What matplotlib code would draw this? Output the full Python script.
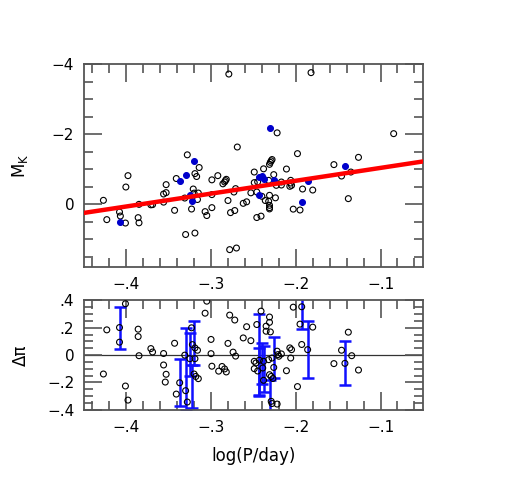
import matplotlib
matplotlib.use("Agg")
import matplotlib.pyplot as plt
from matplotlib.ticker import MultipleLocator, FuncFormatter

# top panel: open circles (logP, M_K)
open_logp = [-0.427, -0.423, -0.408, -0.407, -0.401, -0.4005, -0.398, -0.386, -0.385, -0.385,
             -0.371, -0.369, -0.356, -0.356, -0.353, -0.353, -0.343, -0.341, -0.328, -0.314,
             -0.319, -0.317, -0.331, -0.321, -0.320, -0.315, -0.316, -0.323, -0.330, -0.319,
             -0.307, -0.305, -0.299, -0.299, -0.299, -0.292, -0.286, -0.284, -0.283, -0.282,
             -0.280, -0.277, -0.272, -0.273, -0.271, -0.269, -0.279, -0.278, -0.270, -0.262,
             -0.258, -0.253, -0.249, -0.249, -0.246, -0.241, -0.246, -0.240, -0.222, -0.198,
             -0.231, -0.230, -0.229, -0.228, -0.238, -0.211, -0.226, -0.232, -0.245, -0.217,
             -0.223, -0.217, -0.206, -0.206, -0.205, -0.207, -0.192, -0.180, -0.231, -0.236,
             -0.232, -0.224, -0.231, -0.231, -0.231, -0.203, -0.195, -0.182, -0.0845, -0.126,
             -0.155, -0.146, -0.135, -0.138]
open_mk = [-0.106, 0.446, 0.229, 0.343, 0.543, -0.486, -0.811, 0.389, 0.537, 0.009,
           0.023, 0.017, -0.054, -0.286, -0.326, -0.554, 0.180, -0.729, -1.406, -1.043,
           -0.869, -0.786, -0.171, -0.429, -0.311, -0.314, -0.129, 0.143, 0.871, 0.829,
           0.217, 0.329, 0.103, -0.269, -0.691, -0.811, -0.577, -0.629, -0.669, -0.706,
           -0.100, 0.246, 0.186, -0.343, -0.440, -1.629, -3.714, 1.303, 1.257, -0.020,
           -0.063, -0.320, -0.914, -0.611, 0.386, 0.346, -0.343, -0.220, -2.034, -1.440,
           -1.134, -1.191, -1.234, -1.271, -1.006, -1.000, -0.840, -0.677, -0.634, -0.629,
           -0.534, -0.543, -0.677, -0.600, -0.534, -0.506, -0.429, -0.400, -0.249, -0.100,
           -0.077, -0.177, 0.037, 0.103, 0.140, 0.146, 0.171, -3.754, -2.011, -1.334,
           -1.126, -0.800, -0.914, -0.154]

# stars with parallax errors (blue)
blue_logp = [-0.408, -0.337, -0.329, -0.320, -0.325, -0.322, -0.230, -0.243, -0.240, -0.238,
             -0.226, -0.243, -0.186, -0.193, -0.142]
blue_mk = [0.503, -0.657, -0.840, -1.234, -0.257, -0.097, -2.169, -0.763, -0.806, -0.726,
           -0.677, -0.263, -0.669, -0.071, -1.097]
blue_dpi = [0.20, -0.20, -0.10, 0.09, 0.005, -0.23, -0.35, 0.00, -0.06, -0.10,
            -0.02, -0.12, 0.04, 0.35, -0.06]
blue_err = [0.153, 0.17, 0.30, 0.16, 0.155, 0.155, 0.17, 0.30, 0.15, 0.17,
            0.15, 0.17, 0.21, 0.16, 0.16]

# bottom panel: open circles (logP, delta parallax)
res_logp = [-0.427, -0.423, -0.408, -0.408, -0.401, -0.401, -0.398, -0.386, -0.386, -0.385,
            -0.371, -0.369, -0.356, -0.356, -0.353, -0.354, -0.343, -0.341, -0.337, -0.331,
            -0.330, -0.328, -0.325, -0.323, -0.322, -0.319, -0.319, -0.316, -0.320, -0.318,
            -0.315, -0.307, -0.305, -0.300, -0.300, -0.299, -0.291, -0.287, -0.284, -0.282,
            -0.280, -0.278, -0.272, -0.274, -0.271, -0.262, -0.258, -0.253, -0.246, -0.249,
            -0.247, -0.249, -0.245, -0.243, -0.241, -0.238, -0.239, -0.238, -0.235, -0.235,
            -0.231, -0.231, -0.230, -0.232, -0.228, -0.226, -0.231, -0.229, -0.227, -0.229,
            -0.228, -0.222, -0.222, -0.221, -0.217, -0.220, -0.211, -0.207, -0.205, -0.206,
            -0.203, -0.198, -0.195, -0.193, -0.193, -0.186, -0.180, -0.155, -0.146, -0.142,
            -0.138, -0.134, -0.126]
res_dpi = [-0.138, 0.185, 0.202, 0.095, 0.376, -0.226, -0.329, 0.190, 0.136, -0.004,
           0.048, 0.023, 0.012, -0.072, -0.140, -0.197, 0.087, -0.285, -0.202, 0.0,
           -0.260, -0.343, -0.026, 0.200, 0.077, -0.026, 0.053, 0.036, -0.138, -0.156,
           -0.172, 0.307, 0.395, 0.115, 0.011, -0.081, -0.117, -0.083, -0.101, -0.123,
           0.086, 0.293, 0.257, 0.022, -0.007, 0.126, 0.208, 0.106, 0.224, -0.045,
           -0.057, -0.099, -0.116, -0.037, 0.322, -0.045, -0.094, -0.184, 0.212, 0.175,
           0.279, 0.240, 0.170, -0.033, -0.021, -0.090, -0.143, -0.156, -0.171, -0.338,
           -0.354, -0.358, 0.029, 0.004, 0.009, -0.008, -0.114, 0.053, 0.040, -0.021,
           0.351, -0.230, 0.227, 0.078, 0.354, 0.040, 0.205, -0.062, 0.036, -0.060,
           0.168, -0.004, -0.109]

# fitted PL relation M_K = a + b logP
fit_a = -1.40
fit_b = -3.675
fit_x = [-0.45, -0.05]

GREY = "#555555"


def fmt(v, pos):
    if abs(v) < 1e-9:
        return "0"
    s = ("%g" % abs(v))
    if s.startswith("0."):
        s = s[1:]
    return ("\u2212" if v < 0 else "") + s


def style(ax):
    for sp in ax.spines.values():
        sp.set_color(GREY)
        sp.set_linewidth(1.3)
    ax.tick_params(which="both", direction="in", top=True, right=True,
                   color=GREY, width=1.2, labelsize=11, pad=7)
    ax.tick_params(which="major", length=13)
    ax.tick_params(which="minor", length=6.5)
    ax.xaxis.set_major_locator(MultipleLocator(0.1))
    ax.xaxis.set_minor_locator(MultipleLocator(0.02))
    ax.xaxis.set_major_formatter(FuncFormatter(fmt))
    ax.yaxis.set_major_formatter(FuncFormatter(fmt))
    ax.set_xlim(-0.45, -0.05)


fig = plt.figure(figsize=(5.18, 4.87), dpi=100)
ax1 = fig.add_axes([0.162, 0.4517, 0.6544, 0.4168])
ax2 = fig.add_axes([0.162, 0.1585, 0.6544, 0.2245])

style(ax1)
ax1.scatter(open_logp, open_mk, s=18, facecolors="none", edgecolors="black", linewidths=0.8, zorder=3)
ax1.scatter(blue_logp, blue_mk, s=18, facecolors="#0000cc", edgecolors="#0000cc", linewidths=0.8, zorder=3)
ax1.plot(fit_x, [fit_a + fit_b * x for x in fit_x], color="red", lw=3.2, zorder=4)
ax1.set_ylim(1.8, -4)
ax1.yaxis.set_major_locator(MultipleLocator(2))
ax1.yaxis.set_minor_locator(MultipleLocator(0.5))
ax1.set_ylabel("M$_{\\rm K}$", fontsize=12)
ax1.yaxis.set_label_coords(-0.16, 0.5)

style(ax2)
ax2.axhline(0, color="#333333", lw=0.9, zorder=1)
ax2.errorbar(blue_logp, blue_dpi, yerr=blue_err, fmt="none", ecolor="#1010ff",
             elinewidth=1.8, capsize=4, capthick=1.8, zorder=2)
ax2.scatter(res_logp, res_dpi, s=18, facecolors="none", edgecolors="black", linewidths=0.8, zorder=3)
ax2.set_ylim(-0.4, 0.4)
ax2.yaxis.set_major_locator(MultipleLocator(0.2))
ax2.yaxis.set_minor_locator(MultipleLocator(0.05))
ax2.set_ylabel("\u0394\u03c0", fontsize=12)
ax2.yaxis.set_label_coords(-0.16, 0.5)
ax2.set_xlabel("log(P/day)", fontsize=12, labelpad=9)

fig.savefig("out.png", dpi=100)
